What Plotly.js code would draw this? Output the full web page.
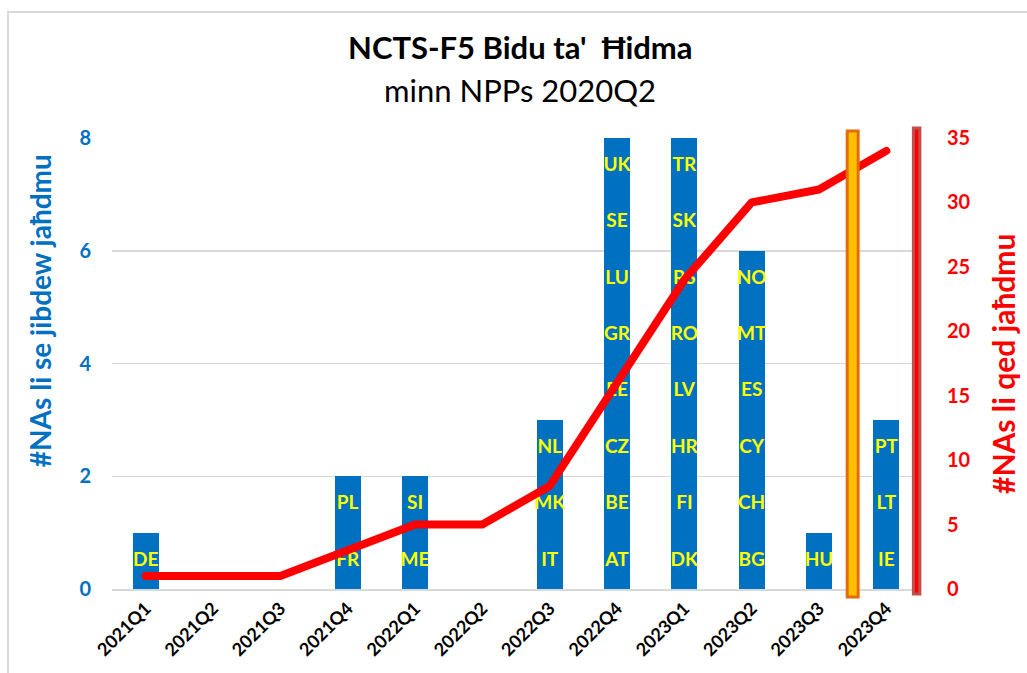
<!DOCTYPE html>
<html>
<head>
<meta charset="utf-8">
<script src="https://cdn.plot.ly/plotly-3.0.1.min.js"></script>
<style>
  html, body { margin: 0; padding: 0; background: #fff; }
  #frame { position: absolute; left: 7px; top: 11px; width: 1030px; height: 680px;
           border-left: 2px solid #d9d9d9; border-top: 2px solid #d9d9d9; pointer-events: none; }
  #chart { position: absolute; left: 0; top: 0; width: 1027px; height: 673px; }
  #chart .scatterlayer .js-line { stroke-linecap: round; stroke-linejoin: round; }
</style>
</head>
<body>
<div id="chart"></div>
<div id="frame"></div>
<script>
// ---- data ----
const quarters = ["2021Q1","2021Q2","2021Q3","2021Q4","2022Q1","2022Q2","2022Q3","2022Q4","2023Q1","2023Q2","2023Q3","2023Q4"];
// countries going live per quarter, listed bottom to top of each bar
const countriesByQuarter = [
  ["DE"],
  [],
  [],
  ["FR","PL"],
  ["ME","SI"],
  [],
  ["IT","MK","NL"],
  ["AT","BE","CZ","EE","GR","LU","SE","UK"],
  ["DK","FI","HR","LV","RO","RS","SK","TR"],
  ["BG","CH","CY","ES","MT","NO"],
  ["HU"],
  ["IE","LT","PT"]
];
// cumulative number of NAs in operation (right axis)
const cumulativeNAs = [1,1,1,3,5,5,8,16,24,30,31,34];
const leftTicks = [0,2,4,6,8];
const rightTicks = [0,5,10,15,20,25,30,35];
// vertical markers (category-index positions)
const markerCurrent = 10.5;
const markerEnd = 11.45;

const titleLine1 = "NCTS-F5 Bidu ta'  Ħidma";
const titleLine2 = "minn NPPs 2020Q2";
const leftTitle = "#NAs li se jibdew jaħdmu";
const rightTitle = "#NAs li qed jaħdmu";

// ---- build traces ----
const FONT = "Lato, 'Open Sans', sans-serif";
const maxLevel = Math.max(...countriesByQuarter.map(c => c.length));
const traces = [];
for (let lvl = 0; lvl < maxLevel; lvl++) {
  traces.push({
    type: "bar",
    x: quarters,
    y: countriesByQuarter.map(c => c.length > lvl ? 1 : null),
    marker: { color: "#0070C0", line: { width: 0 } },
    width: 0.39,
    hoverinfo: "skip",
    showlegend: false
  });
}
traces.push({
  type: "scatter",
  mode: "lines",
  x: quarters,
  y: cumulativeNAs,
  yaxis: "y2",
  line: { color: "#FF0000", width: 8, shape: "linear" },
  hoverinfo: "skip",
  showlegend: false
});
// country labels, drawn on top of the line
const lx = [], ly = [], lt = [];
countriesByQuarter.forEach((c, i) => c.forEach((code, lvl) => {
  lx.push(quarters[i]); ly.push(lvl + 0.5); lt.push("<b>" + code + "</b>");
}));
traces.push({
  type: "scatter", mode: "text",
  x: lx, y: ly, text: lt,
  textposition: "middle center",
  textfont: { family: FONT, size: 19, color: "#FFFF00" },
  hoverinfo: "skip", showlegend: false, cliponaxis: false
});

const px2x = v => (v + 0.5) / quarters.length;

const layout = {
  width: 1027, height: 673,
  paper_bgcolor: "#ffffff", plot_bgcolor: "#ffffff",
  margin: { l: 112, r: 107, t: 138, b: 84, pad: 0 },
  barmode: "stack",
  font: { family: FONT, color: "#000" },
  xaxis: {
    type: "category",
    categoryorder: "array", categoryarray: quarters,
    range: [-0.5, 11.5],
    tickangle: -45,
    tickfont: { family: FONT, size: 18, color: "#000", weight: "bold" },
    showgrid: false,
    showline: true, linecolor: "#d9d9d9", linewidth: 2,
    ticks: "", zeroline: false
  },
  yaxis: {
    range: [0, 8],
    tickvals: leftTicks,
    tickfont: { family: FONT, size: 20, color: "#0070C0", weight: "bold" },
    showgrid: true, gridcolor: "#d9d9d9", gridwidth: 1.5,
    zeroline: false, showline: false, ticks: "",
    ticklabelstandoff: 20
  },
  yaxis2: {
    overlaying: "y", side: "right",
    range: [0, 35],
    tickvals: rightTicks,
    tickfont: { family: FONT, size: 20, color: "#FF0000", weight: "bold" },
    showgrid: false, zeroline: false, showline: false, ticks: "",
    ticklabelstandoff: 26
  },
  annotations: [
    { text: "<b>" + titleLine1 + "</b>", xref: "paper", yref: "paper", x: 0.505, y: 1.2018,
      xanchor: "center", yanchor: "middle", showarrow: false,
      font: { family: FONT, size: 31, color: "#000" } },
    { text: titleLine2, xref: "paper", yref: "paper", x: 0.505, y: 1.1064,
      xanchor: "center", yanchor: "middle", showarrow: false,
      font: { family: FONT, size: 31, color: "#000" } },
    { text: "<b>" + leftTitle + "</b>", xref: "paper", yref: "paper", x: -0.0891, y: 0.616,
      xanchor: "center", yanchor: "middle", showarrow: false, textangle: -90,
      font: { family: FONT, size: 28, color: "#0070C0" } },
    { text: "<b>" + rightTitle + "</b>", xref: "paper", yref: "paper", x: 1.1027, y: 0.4989,
      xanchor: "center", yanchor: "middle", showarrow: false, textangle: -90,
      font: { family: FONT, size: 30, color: "#FF0000" } }
  ],
  shapes: [
    {
      type: "rect", xref: "paper", yref: "paper",
      x0: px2x(markerCurrent) - 0.0068, x1: px2x(markerCurrent) + 0.0068, y0: -0.0177, y1: 1.0155,
      fillcolor: "#FFC000", line: { color: "#E46C0A", width: 3 }, layer: "above"
    },
    {
      type: "rect", xref: "paper", yref: "paper",
      x0: px2x(markerEnd) - 0.004, x1: px2x(markerEnd) + 0.004, y0: -0.011, y1: 1.022,
      fillcolor: "#FF0000", line: { color: "#C0504D", width: 3 }, layer: "above"
    }
  ]
};

Plotly.newPlot("chart", traces, layout, { displayModeBar: false, staticPlot: true });
</script>
</body>
</html>
